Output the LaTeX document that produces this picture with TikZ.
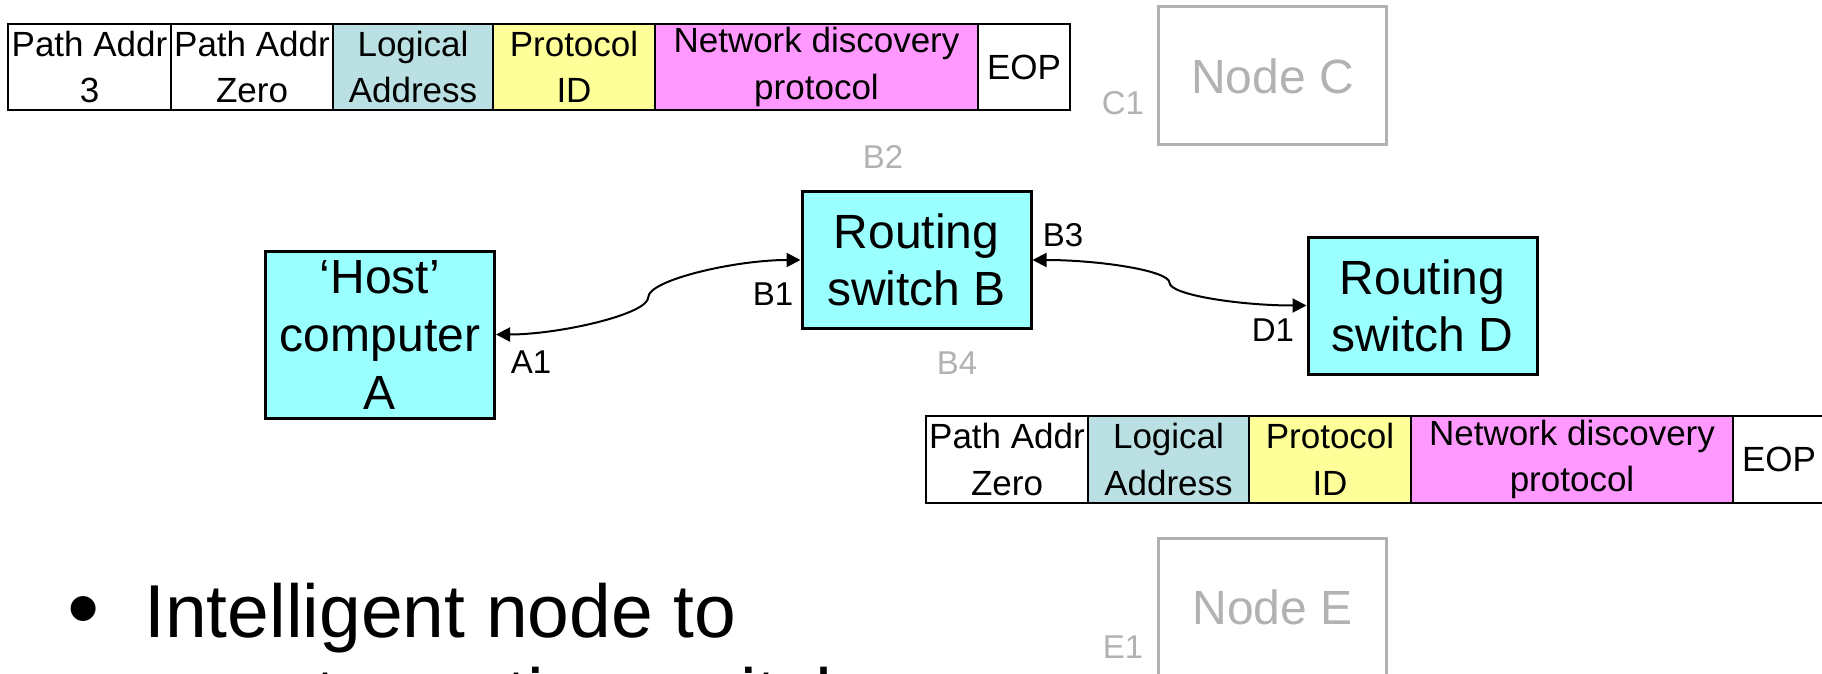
\documentclass[tikz,border=0pt]{standalone}
\usepackage{fontspec}
\setmainfont{Liberation Sans}
\usetikzlibrary{arrows.meta,calc}
\definecolor{boxcyan}{RGB}{153,255,255}
\definecolor{cellteal}{RGB}{187,224,227}
\definecolor{cellyellow}{RGB}{255,255,153}
\definecolor{cellpink}{RGB}{255,153,255}
\definecolor{ghost}{RGB}{178,178,178}
\begin{document}
\begin{tikzpicture}[x=0.5pt,y=-0.5pt,
  cell/.style={draw=black, line width=1pt, inner sep=0pt, outer sep=0pt,
    anchor=north west, align=center, font=\fontsize{17.5}{23.3}\selectfont},
  toprow/.style={cell, minimum height=43pt},
  botrow/.style={cell, minimum height=43.5pt},
  hostbox/.style={draw=black, line width=1.5pt, fill=boxcyan, inner sep=0pt,
    minimum width=114.5pt, align=center, font=\fontsize{24}{28.5}\selectfont},
  ghostbox/.style={draw=ghost, line width=1.5pt, inner sep=0pt, text=ghost,
    minimum width=114pt, minimum height=69pt, font=\fontsize{24}{28.5}\selectfont},
  port/.style={inner sep=0pt, font=\fontsize{16.5}{19}\selectfont},
  ghostport/.style={port, text=ghost},
  conn/.style={line width=1pt,
    {Triangle[length=7pt,width=7pt]}-{Triangle[length=7pt,width=7pt]}},
  bullettext/.style={inner sep=0pt, anchor=base west, font=\fontsize{37.5}{44}\selectfont}
]
\useasboundingbox (0,0) rectangle (1822,674);

% top packet
\node[toprow, minimum width=81.5pt] (t1) at (8,24) {Path Addr\\3};
\node[toprow, minimum width=81pt] (t2) at (171,24) {Path Addr\\Zero};
\node[toprow, minimum width=80pt, fill=cellteal] (t3) at (333,24) {Logical\\Address};
\node[toprow, minimum width=81pt, fill=cellyellow] (t4) at (493,24) {Protocol\\ID};
\node[toprow, minimum width=161.5pt, fill=cellpink] (t5) at (655,24) {Network discovery\\protocol};
\node[toprow, minimum width=46pt] (t6) at (978,24) {EOP};

% bottom packet
\node[botrow, minimum width=81pt] (b1) at (926,416) {Path Addr\\Zero};
\node[botrow, minimum width=80.5pt, fill=cellteal] (b2) at (1088,416) {Logical\\Address};
\node[botrow, minimum width=81pt, fill=cellyellow] (b3) at (1249,416) {Protocol\\ID};
\node[botrow, minimum width=161pt, fill=cellpink] (b4) at (1411,416) {Network discovery\\protocol};
\node[botrow, minimum width=46pt] (b5) at (1733,416) {EOP};

% nodes
\node[hostbox, minimum height=83.5pt, font=\fontsize{24}{29}\selectfont] (A) at (380,334.5) {‘Host’\\computer\\A};
\node[hostbox, minimum height=68pt] (B) at (916.5,260) {Routing\\switch B};
\node[hostbox, minimum height=68.5pt] (D) at (1422.5,305.5) {Routing\\switch D};
\node[ghostbox] (C) at (1272.5,76) {Node C};
\node[ghostbox] (E) at (1272.5,607.5) {Node E};

% port labels
\node[ghostport] (lB2) at (883,157) {B2};
\node[port] (lB1) at (773,294) {B1};
\node[port] (lA1) at (531,362) {A1};
\node[port] (lB3) at (1063,235) {B3};
\node[port] (lD1) at (1273,330) {D1};
\node[ghostport] (lB4) at (957,363) {B4};
\node[ghostport] (lC1) at (1123,103) {C1};
\node[ghostport] (lE1) at (1123,647) {E1};

% links
\coordinate (m1) at ($(A.east)!0.5!(B.west)$);
\coordinate (m2) at ($(B.east)!0.5!(D.west)$);
\draw[conn] (A.east) .. controls +(63,0) and +(0,17) .. (m1)
  .. controls +(0,-17) and +(-66,0) .. (B.west);
\draw[conn] (B.east) .. controls +(67,0) and +(0,-12) .. (m2)
  .. controls +(0,12) and +(-67,0) .. (D.west);

% bullet text
\node[inner sep=0pt, font=\fontsize{46}{50}\selectfont] (bul) at (84,618) {•};
\node[bullettext] (line1) at (144,637) {Intelligent node to};
\node[bullettext] (line2) at (144,721) {remote routing switch};
\end{tikzpicture}
\end{document}
